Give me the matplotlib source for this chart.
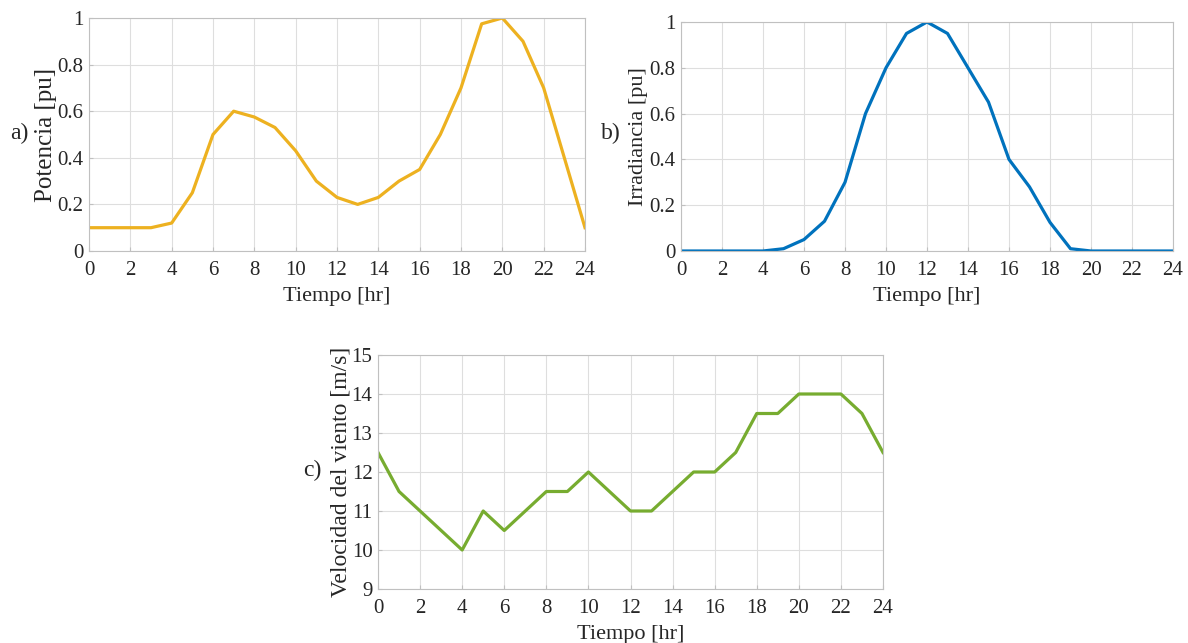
import matplotlib
matplotlib.use("Agg")
import matplotlib.pyplot as plt

plt.rcParams['font.family'] = ['Liberation Serif', 'DejaVu Serif']

hours = list(range(25))
potencia = [0.1, 0.1, 0.1, 0.1, 0.12, 0.25, 0.5, 0.6, 0.575, 0.53, 0.43, 0.3, 0.23,
            0.2, 0.23, 0.3, 0.35, 0.5, 0.7, 0.975, 1.0, 0.9, 0.7, 0.4, 0.1]
irradiancia = [0, 0, 0, 0, 0, 0.01, 0.05, 0.13, 0.3, 0.6, 0.8, 0.95, 1.0,
               0.95, 0.8, 0.65, 0.4, 0.28, 0.125, 0.01, 0, 0, 0, 0, 0]
viento = [12.5, 11.5, 11, 10.5, 10, 11, 10.5, 11, 11.5, 11.5, 12, 11.5, 11,
          11, 11.5, 12, 12, 12.5, 13.5, 13.5, 14, 14, 14, 13.5, 12.5]

xticks = list(range(0, 25, 2))
yticks_pu = [0, 0.2, 0.4, 0.6, 0.8, 1]
yticklabels_pu = ['0', '0.2', '0.4', '0.6', '0.8', '1']
yticks_v = list(range(9, 16))

W, H = 1188, 643
fig = plt.figure(figsize=(W / 100, H / 100), dpi=100)

def add_ax(l, r, t, b):
    return fig.add_axes([l / W, 1 - b / H, (r - l) / W, (b - t) / H])

ax1 = add_ax(89, 585, 18, 251)
ax2 = add_ax(681, 1173, 22, 251)
ax3 = add_ax(378, 883, 355, 589)

TXT = '#262626'

def style(ax):
    ax.set_xlim(0, 24)
    ax.set_xticks(xticks)
    ax.grid(True, color='#dedede', linewidth=0.8)
    ax.set_axisbelow(True)
    for s in ax.spines.values():
        s.set_color('#c0c0c0')
        s.set_linewidth(0.8)
    ax.tick_params(direction='in', length=3, color='#c0c0c0', labelsize=15,
                   labelcolor=TXT)
    ax.tick_params(axis='x', pad=7)
    ax.tick_params(axis='y', pad=4)
    ax.set_xlabel('Tiempo [hr]', fontsize=16, color=TXT, labelpad=5)

style(ax1)
ax1.plot(hours, potencia, color='#EDB120', linewidth=2.3)
ax1.set_ylim(0, 1)
ax1.set_yticks(yticks_pu)
ax1.set_yticklabels(yticklabels_pu)
ax1.set_ylabel('Potencia [pu]', fontsize=18, color=TXT, labelpad=0)

style(ax2)
ax2.plot(hours, irradiancia, color='#0072BD', linewidth=2.3)
ax2.set_ylim(0, 1)
ax2.set_yticks(yticks_pu)
ax2.set_yticklabels(yticklabels_pu)
ax2.set_ylabel('Irradiancia [pu]', fontsize=16, color=TXT, labelpad=1)

style(ax3)
ax3.plot(hours, viento, color='#77AC30', linewidth=2.3)
ax3.set_ylim(9, 15)
ax3.set_yticks(yticks_v)
ax3.set_ylabel('Velocidad del viento [m/s]', fontsize=17, color=TXT, labelpad=0)

fig.text(10 / W, 1 - 133 / H, 'a)', fontsize=17, color=TXT, va='center', ha='left')
fig.text(601 / W, 1 - 133 / H, 'b)', fontsize=17, color=TXT, va='center', ha='left')
fig.text(303 / W, 1 - 470 / H, 'c)', fontsize=17, color=TXT, va='center', ha='left')

fig.savefig('out.png', dpi=100, facecolor='white')
